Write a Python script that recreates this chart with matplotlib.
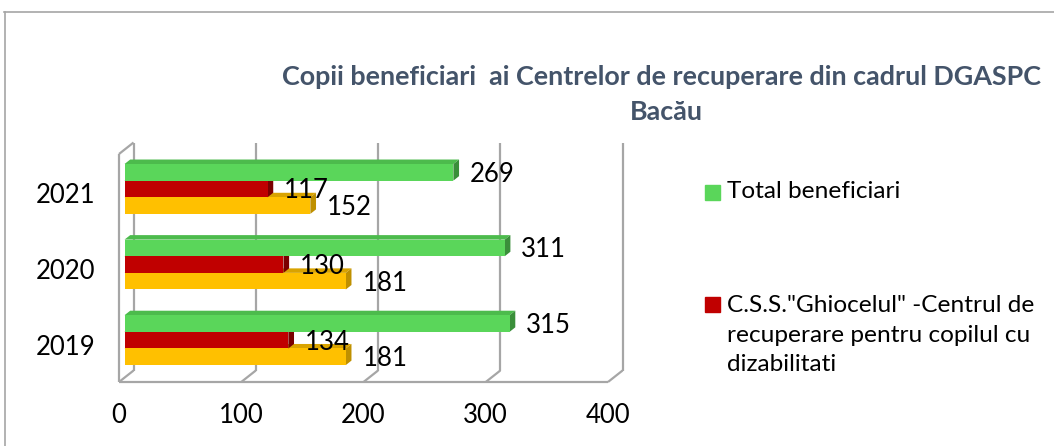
import matplotlib.pyplot as plt
from matplotlib.patches import Polygon, Rectangle
from matplotlib.lines import Line2D

plt.rcParams['font.family'] = ['Lato', 'DejaVu Sans']

years = ['2019', '2020', '2021']
total = [315, 311, 269]
ghiocelul = [134, 130, 117]
altul = [181, 181, 152]
xticks = [0, 100, 200, 300, 400]

W, H = 1054, 446
fig = plt.figure(figsize=(W / 100, H / 100), dpi=100)

def fx(px):
    return px / W

def fy(py):
    return 1 - py / H

# front plane of the 3d box
ax = fig.add_axes([fx(119), fy(382), fx(608) - fx(119), fy(154) - fy(382)])
ax.set_xlim(0, 400)
ax.set_ylim(-0.496, 2.52)
for s in ax.spines.values():
    s.set_visible(False)
ax.set_facecolor('none')

# depth vector (data units) for the whole box
DX = 11.9
DY = 0.152
grey = '#a6a6a6'
y0, y1 = ax.get_ylim()

def wall(xs, ys):
    ax.add_line(Line2D(xs, ys, color=grey, lw=1.6, clip_on=False, zorder=1,
                       solid_capstyle='butt'))

# left side wall
wall([0, 0], [y0, y1])
wall([0, DX], [y1, y1 + DY])
wall([DX, DX], [y0 + DY, y1 + DY])
wall([0, DX], [y0, y0 + DY])
# floor front edge + gridlines on the back wall
wall([0, 400], [y0, y0])
for t in xticks[1:]:
    wall([t, t + DX], [y0, y0 + DY])
    wall([t + DX, t + DX], [y0 + DY, y1 + DY])

# bars sit part way into the box
d0 = 0.38
bd = 0.39
bh = 0.22
bx = d0 * DX
series = [
    (altul, -bh, '#ffc000', '#d9a300', '#bf9000'),
    (ghiocelul, 0.0, '#c00000', '#a00000', '#7a0000'),
    (total, bh, '#5ad65a', '#4cbb4c', '#3a8f3a'),
]
cats = list(range(len(years)))
for k, (vals, off, front, top, side) in enumerate(series):
    z = 3 + k * 2
    ys = [c + off + d0 * DY for c in cats]
    bars = ax.barh(ys, vals, height=bh, left=bx, color=front, zorder=z + 1)
    for rect, v in zip(bars, vals):
        xl, yb = rect.get_x(), rect.get_y()
        xr, yt = xl + rect.get_width(), yb + rect.get_height()
        ddx, ddy = bd * DX, bd * DY
        ax.add_patch(Polygon([(xl, yt), (xr, yt), (xr + ddx, yt + ddy), (xl + ddx, yt + ddy)],
                             closed=True, color=top, lw=0, zorder=z, clip_on=False))
        ax.add_patch(Polygon([(xr, yb), (xr + ddx, yb + ddy), (xr + ddx, yt + ddy), (xr, yt)],
                             closed=True, color=side, lw=0, zorder=z, clip_on=False))
        ax.text(xr + 13.6, (yb + yt) / 2 - 0.025, str(v), ha='left', va='center',
                fontsize=18.5, color='black', zorder=20)

ax.set_yticks(cats)
ax.set_yticklabels(years, fontsize=18.5)
ax.set_xticks(xticks)
ax.set_xticklabels([str(t) for t in xticks], fontsize=18.5)
ax.tick_params(axis='both', length=0)
ax.tick_params(axis='y', pad=17)
ax.tick_params(axis='x', pad=15)

# title
tcol = '#44546a'
fig.text(fx(662), fy(77), 'Copii beneficiari  ai Centrelor de recuperare din cadrul DGASPC',
         ha='center', va='center', fontsize=19.4, fontweight='bold', color=tcol)
fig.text(fx(666), fy(112), 'Bacău', ha='center', va='center', fontsize=19.4,
         fontweight='bold', color=tcol)

# legend (third entry is cut off in the original)
fig.patches.append(Rectangle((fx(705), fy(200)), fx(15), fy(185) - fy(200),
                             transform=fig.transFigure, color='#5ad65a'))
fig.text(fx(727), fy(192), 'Total beneficiari', ha='left', va='center', fontsize=17.6)
fig.patches.append(Rectangle((fx(705), fy(312)), fx(15), fy(297) - fy(312),
                             transform=fig.transFigure, color='#c00000'))
fig.text(fx(727), fy(295), 'C.S.S."Ghiocelul" -Centrul de\nrecuperare pentru copilul cu\ndizabilitati',
         ha='left', va='top', fontsize=17.6, linespacing=1.5)

# chart area border (only top and left edge are inside the picture)
fig.add_artist(Line2D([fx(4), 1], [fy(11.5), fy(11.5)], color=grey, lw=1.2,
                      transform=fig.transFigure))
fig.add_artist(Line2D([fx(4.5), fx(4.5)], [fy(11.5), 0], color=grey, lw=1.2,
                      transform=fig.transFigure))

fig.savefig('out.png', dpi=100)
